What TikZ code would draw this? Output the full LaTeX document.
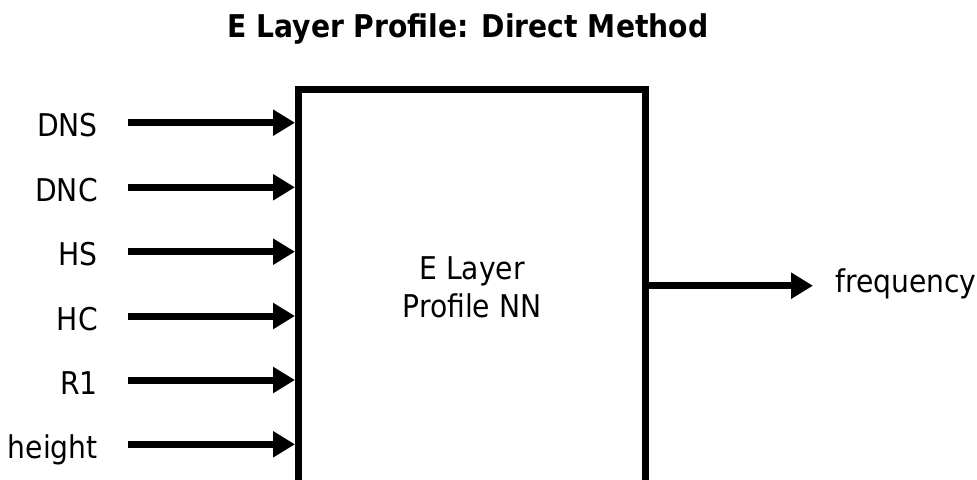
\documentclass[tikz,border=0pt]{standalone}
\usepackage{fontspec}
\setmainfont{DejaVu Sans Condensed}
\usetikzlibrary{arrows.meta}
\begin{document}
\begin{tikzpicture}[x=0.75pt,y=-0.75pt,
  lbl/.style={font=\fontsize{23.5}{28}\selectfont, inner sep=0pt},
  inarrow/.style={line width=5.25pt, -{Triangle[length=16.5pt,width=18.75pt]}},
  nnbox/.style={draw, line width=5.25pt, minimum width=346.5*0.75pt, minimum height=430*0.75pt, inner sep=0pt}
]
\useasboundingbox (0,0) rectangle (977,479);
\clip (0,0) rectangle (977,479);
\node[font=\bfseries\fontsize{23.5}{28}\selectfont, anchor=base, inner sep=0pt] (title) at (468,37) {E Layer Profile: Direct Method};
\node[nnbox] (box) at (471.75,304.5) {};
\node[lbl, align=center, anchor=base] (nn1) at (472,279) {E Layer};
\node[lbl, align=center, anchor=base] (nn2) at (472,317) {Profile NN};
\foreach \name/\txt/\y in {dns/DNS/122.7, dnc/DNC/187.3, hs/HS/251.7, hc/HC/316, ra/R1/380, ht/height/444.3}{
  \node[lbl, anchor=base east] (\name) at (98,\y+14) {\txt};
  \coordinate (\name s) at (128,\y);
  \coordinate (\name e) at (\name s -| box.west);
  \draw[inarrow] (\name s) -- (\name e);
}
\coordinate (outs) at (box.east |- 0,285.7);
\coordinate (oute) at (813,285.7);
\draw[inarrow] (outs) -- (oute);
\node[lbl, anchor=base west] (freq) at (835,292) {frequency};
\end{tikzpicture}
\end{document}
